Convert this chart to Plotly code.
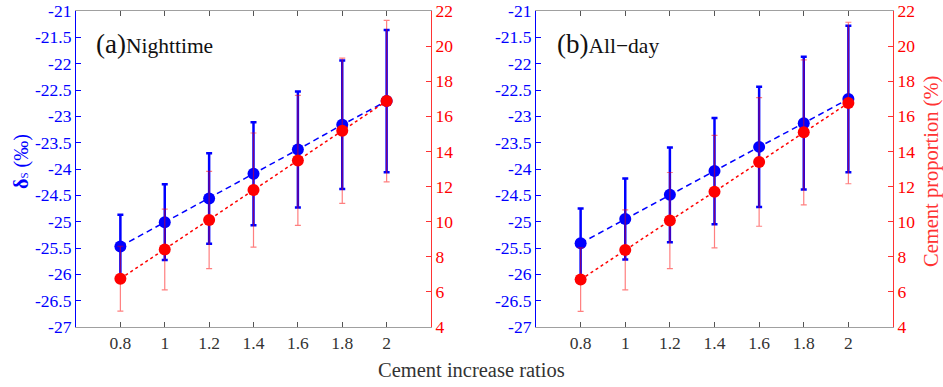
import plotly.graph_objects as go

ratios = [0.8, 1.0, 1.2, 1.4, 1.6, 1.8, 2.0]
x_ticklabels = ["0.8", "1", "1.2", "1.4", "1.6", "1.8", "2"]

# Panel (a) Nighttime
delta_a = [-25.47, -25.01, -24.56, -24.09, -23.63, -23.16, -22.71]
delta_a_err = [0.60, 0.72, 0.86, 0.98, 1.10, 1.22, 1.35]
cement_a = [6.75, 8.42, 10.09, 11.80, 13.49, 15.18, 16.87]
cement_a_err = [1.85, 2.30, 2.77, 3.25, 3.70, 4.14, 4.60]

# Panel (b) All-day
delta_b = [-25.41, -24.95, -24.49, -24.04, -23.58, -23.13, -22.67]
delta_b_err = [0.66, 0.77, 0.90, 1.01, 1.14, 1.26, 1.39]
cement_b = [6.70, 8.39, 10.06, 11.71, 13.40, 15.09, 16.76]
cement_b_err = [1.81, 2.28, 2.74, 3.20, 3.66, 4.13, 4.60]

left_ticks = [-27, -26.5, -26, -25.5, -25, -24.5, -24, -23.5, -23, -22.5, -22, -21.5, -21]
left_ticklabels = ["-27", "-26.5", "-26", "-25.5", "-25", "-24.5", "-24", "-23.5",
                   "-23", "-22.5", "-22", "-21.5", "-21"]
right_ticks = [4, 6, 8, 10, 12, 14, 16, 18, 20, 22]

BLUE = "#0000ff"
RED = "#ff0000"
RED_AX = "#ff3333"
GRAY = "#333333"
FONT = "Liberation Serif"

fig = go.Figure()

def add_panel(delta, delta_err, cement, cement_err, xa, ya, ya2):
    fig.add_trace(go.Scatter(
        x=ratios, y=delta, xaxis=xa, yaxis=ya, mode="lines+markers",
        line=dict(color=BLUE, width=1.5, dash="6px,4px"),
        marker=dict(color=BLUE, size=12),
        error_y=dict(type="data", array=delta_err, visible=True,
                     color=BLUE, thickness=2.5, width=3),
        showlegend=False))
    fig.add_trace(go.Scatter(
        x=ratios, y=cement, xaxis=xa, yaxis=ya2, mode="lines+markers",
        line=dict(color=RED, width=1.5, dash="dot"),
        marker=dict(color=RED, size=12),
        error_y=dict(type="data", array=cement_err, visible=True,
                     color="rgba(255,0,0,0.5)", thickness=1.2, width=3),
        showlegend=False))

add_panel(delta_a, delta_a_err, cement_a, cement_a_err, "x", "y", "y2")
add_panel(delta_b, delta_b_err, cement_b, cement_b_err, "x2", "y3", "y4")

W, H = 943, 387
xdom1 = [76 / W, 431 / W]
xdom2 = [536 / W, 893 / W]

xcommon = dict(range=[0.6, 2.2], tickvals=ratios, ticktext=x_ticklabels,
               showline=True, linecolor="#a0a0a0", linewidth=1, mirror="ticks",
               ticks="inside", ticklen=5, tickcolor="#555555",
               tickfont=dict(family=FONT, size=17.5, color=GRAY),
               showgrid=False, zeroline=False)
yleft = dict(range=[-27, -21], tickvals=left_ticks, ticktext=left_ticklabels,
             showline=True, linecolor=BLUE, linewidth=1.2, ticks="inside",
             ticklen=5, tickcolor=BLUE, tickfont=dict(family=FONT, size=17.5, color=BLUE),
             showgrid=False, zeroline=False, side="left")
yright = dict(range=[4, 22], tickvals=right_ticks,
              showline=True, linecolor=RED_AX, linewidth=1.2, ticks="inside",
              ticklen=5, tickcolor=RED_AX, tickfont=dict(family=FONT, size=17.5, color=RED),
              showgrid=False, zeroline=False, side="right")

fig.update_layout(
    width=W, height=H,
    margin=dict(l=0, r=0, t=11, b=60),
    paper_bgcolor="white", plot_bgcolor="white",
    font=dict(family=FONT),
    xaxis=dict(domain=xdom1, anchor="y", **xcommon),
    yaxis=dict(anchor="x", **yleft),
    yaxis2=dict(anchor="x", overlaying="y", **yright),
    xaxis2=dict(domain=xdom2, anchor="y3", **xcommon),
    yaxis3=dict(anchor="x2", **yleft),
    yaxis4=dict(anchor="x2", overlaying="y3", **yright),
    annotations=[
        dict(text="<span style=\"font-size:27px\">(a)</span>Nighttime",
             xref="paper", yref="paper", x=94 / W, y=1 - (44 - 11) / 316,
             xanchor="left", yanchor="middle", showarrow=False,
             font=dict(family=FONT, size=21.5, color="#111111")),
        dict(text="<span style=\"font-size:27px\">(b)</span>All\u2212day",
             xref="paper", yref="paper", x=555 / W, y=1 - (44 - 11) / 316,
             xanchor="left", yanchor="middle", showarrow=False,
             font=dict(family=FONT, size=21.5, color="#111111")),
        dict(text="<b>\u03b4</b><span style=\"font-size:11px\">S</span> (\u2030)",
             xref="paper", yref="paper", x=21 / W, y=1 - (162 - 11) / 316,
             xanchor="center", yanchor="middle", textangle=-90, showarrow=False,
             font=dict(family=FONT, size=20, color=BLUE)),
        dict(text="Cement proportion (%)",
             xref="paper", yref="paper", x=931 / W, y=1 - (172 - 11) / 316,
             xanchor="center", yanchor="middle", textangle=-90, showarrow=False,
             font=dict(family=FONT, size=20.5, color=RED_AX)),
        dict(text="Cement increase ratios",
             xref="paper", yref="paper", x=471 / W, y=1 - (370 - 11) / 316,
             xanchor="center", yanchor="middle", showarrow=False,
             font=dict(family=FONT, size=20.5, color=GRAY)),
    ],
)

fig.write_html("out.html")
